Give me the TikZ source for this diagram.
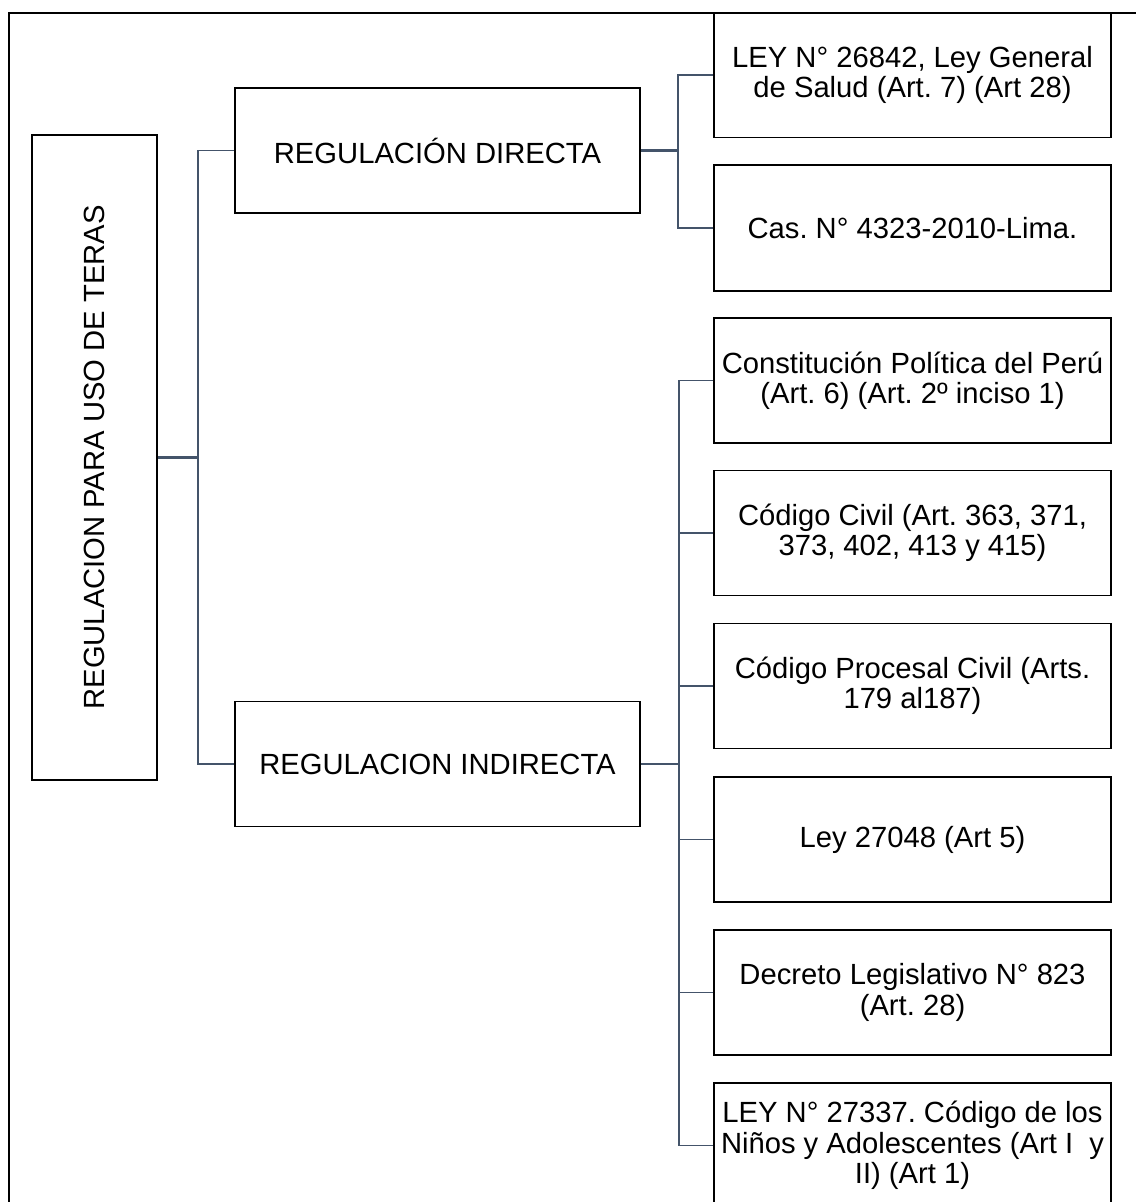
\documentclass[tikz,border=0pt]{standalone}
\usepackage{fontspec}
\setmainfont{Liberation Sans}
\usepackage{graphicx}
\usepackage{xcolor}
\usepackage{tikz}
\usetikzlibrary{positioning,calc}

\definecolor{linkgray}{HTML}{44546A}
\frenchspacing

\begin{document}
\begin{tikzpicture}[
    x=0.5pt, y=-0.5pt,
    box/.style={rectangle, draw=black, line width=0.75pt, text centered, align=center,
                font=\fontsize{14.6}{15.2}\selectfont, inner sep=1pt},
    head/.style={box, minimum width=202.5pt, minimum height=62.5pt},
    leaf/.style={box, minimum width=198.5pt, minimum height=62.5pt},
    stub/.style={draw=linkgray, line width=1.4pt},
    link/.style={draw=linkgray, line width=0.8pt},
    frame/.style={draw=black, line width=1.1pt}
]
\useasboundingbox (0,0) rectangle (1135,1202);

% outer frame
\draw[frame] (9,1210) |- (1140,13);

% root
\node[box, minimum width=62.5pt, minimum height=322.5pt] (root) at (94.5,457.5)
    {\rotatebox{90}{REGULACION PARA USO DE TERAS}};

% second level
\node[head] (direct) at (437.5,150.5) {REGULACIÓN DIRECTA};
\node[head] (indirect) at (437.5,764) {REGULACION INDIRECTA};

% direct regulation
\node[leaf] (d1) at (912.5,75) {LEY N° 26842, Ley General\\de Salud (Art. 7) (Art 28)};
\node[leaf, minimum height=63pt] (d2) at (912.5,228) {Cas. N° 4323-2010-Lima.};

% indirect regulation
\node[leaf] (i1) at (912.5,380.5) {Constitución Política del Perú\\(Art. 6) (Art. 2º inciso 1)};
\node[leaf] (i2) at (912.5,533) {Código Civil (Art. 363, 371,\\373, 402, 413 y 415)};
\node[leaf] (i3) at (912.5,686) {Código Procesal Civil (Arts.\\179 al187)};
\node[leaf] (i4) at (912.5,839.5) {Ley 27048 (Art 5)};
\node[leaf] (i5) at (912.5,992.5) {Decreto Legislativo N° 823\\(Art. 28)};
\node[leaf] (i6) at (912.5,1145.5) {LEY N° 27337. Código de los\\Niños y Adolescentes (Art I~ y\\II) (Art 1)};

% connectors
\draw[stub] (root.east) -- ++(40,0) coordinate (rootfork);
\draw[link] (rootfork) |- (direct.west);
\draw[link] (rootfork) |- (indirect.west);

\draw[stub] (direct.east) -- ++(37,0) coordinate (directfork);
\draw[link] (directfork) |- (d1.west);
\draw[link] (directfork) |- (d2.west);

\draw[stub] (indirect.east) -- ++(38,0) coordinate (indirectfork);
\foreach \n in {i1,i2,i3,i4,i5,i6}
    \draw[link] (indirectfork) |- (\n.west);

\end{tikzpicture}
\end{document}
